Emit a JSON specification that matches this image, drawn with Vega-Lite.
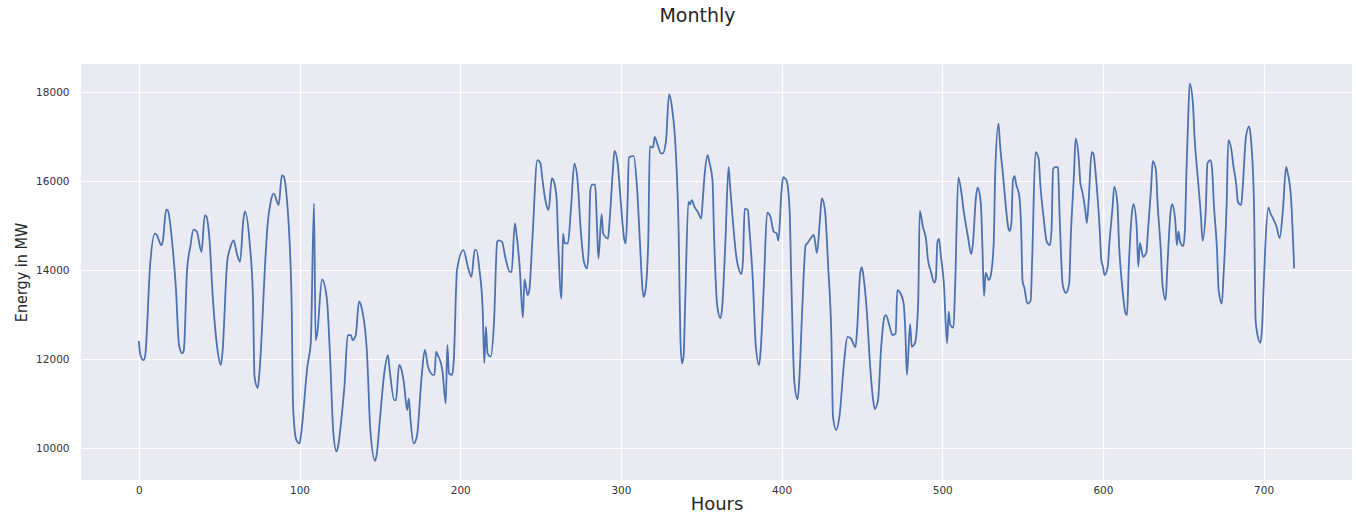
{
  "$schema": "https://vega.github.io/schema/vega-lite/v6.json",
  "width": 1271,
  "height": 416,
  "autosize": {"type": "none"},
  "padding": {"left": 81, "top": 64, "right": 4, "bottom": 34},
  "background": "white",
  "title": {
    "text": "Monthly",
    "font": "DejaVu Sans",
    "fontSize": 19,
    "fontWeight": "normal",
    "color": "#262626",
    "anchor": "middle",
    "frame": "group",
    "dx": -19,
    "offset": 38
  },
  "config": {
    "view": {"fill": "#EAEAF2", "stroke": null},
    "axis": {
      "domain": false,
      "ticks": false,
      "gridColor": "white",
      "gridWidth": 1.2,
      "labelFont": "DejaVu Sans",
      "labelFontSize": 10.5,
      "labelColor": "#333333",
      "titleColor": "#262626",
      "titleFontWeight": "normal"
    }
  },
  "data": {"values": [
    {"h":0,"mw":12410},{"h":1,"mw":12090},{"h":3,"mw":11980},{"h":4,"mw":12090},{"h":7,"mw":14110},
    {"h":10,"mw":14820},{"h":11,"mw":14800},{"h":14,"mw":14560},{"h":15,"mw":14670},{"h":17,"mw":15360},
    {"h":18,"mw":15340},{"h":21,"mw":14520},{"h":23,"mw":13630},{"h":25,"mw":12320},{"h":27,"mw":12130},
    {"h":28,"mw":12200},{"h":30,"mw":14000},{"h":32,"mw":14520},{"h":34,"mw":14910},{"h":36,"mw":14870},
    {"h":39,"mw":14410},{"h":41,"mw":15230},{"h":42,"mw":15210},{"h":44,"mw":14670},{"h":46,"mw":13400},
    {"h":49,"mw":12200},{"h":51,"mw":11870},{"h":52,"mw":12130},{"h":55,"mw":14190},{"h":57,"mw":14520},
    {"h":59,"mw":14670},{"h":61,"mw":14370},{"h":63,"mw":14190},{"h":65,"mw":15120},{"h":66,"mw":15320},
    {"h":69,"mw":14600},{"h":71,"mw":13400},{"h":72,"mw":11610},{"h":74,"mw":11350},{"h":75,"mw":11680},
    {"h":79,"mw":14410},{"h":80,"mw":14970},{"h":82,"mw":15530},{"h":84,"mw":15720},{"h":87,"mw":15460},
    {"h":89,"mw":16130},{"h":90,"mw":16110},{"h":92,"mw":15650},{"h":95,"mw":13400},{"h":96,"mw":10930},
    {"h":98,"mw":10190},{"h":100,"mw":10110},{"h":101,"mw":10330},{"h":105,"mw":11870},{"h":107,"mw":12360},
    {"h":109,"mw":15500},{"h":110,"mw":12430},{"h":111,"mw":12580},{"h":114,"mw":13790},{"h":117,"mw":13360},
    {"h":119,"mw":12060},{"h":121,"mw":10370},{"h":123,"mw":9930},{"h":124,"mw":10040},{"h":126,"mw":10640},
    {"h":128,"mw":11420},{"h":130,"mw":12540},{"h":132,"mw":12540},{"h":133,"mw":12430},{"h":135,"mw":12540},
    {"h":137,"mw":13290},{"h":139,"mw":13100},{"h":142,"mw":12130},{"h":144,"mw":10450},{"h":147,"mw":9720},
    {"h":148,"mw":9850},{"h":150,"mw":10640},{"h":153,"mw":11760},{"h":155,"mw":12090},{"h":156,"mw":11790},
    {"h":159,"mw":11080},{"h":160,"mw":11080},{"h":162,"mw":11870},{"h":163,"mw":11820},{"h":165,"mw":11460},
    {"h":167,"mw":10860},{"h":168,"mw":11120},{"h":169,"mw":10670},{"h":171,"mw":10110},{"h":173,"mw":10260},
    {"h":176,"mw":11610},{"h":178,"mw":12210},{"h":180,"mw":11830},{"h":183,"mw":11650},{"h":184,"mw":11650},
    {"h":185,"mw":12170},{"h":186,"mw":12090},{"h":188,"mw":11910},{"h":189,"mw":11720},{"h":191,"mw":11010},
    {"h":192,"mw":12320},{"h":193,"mw":11680},{"h":195,"mw":11650},{"h":196,"mw":11980},{"h":198,"mw":14000},
    {"h":202,"mw":14450},{"h":205,"mw":14040},{"h":207,"mw":13850},{"h":209,"mw":14450},{"h":210,"mw":14450},
    {"h":212,"mw":14000},{"h":214,"mw":13100},{"h":215,"mw":11910},{"h":216,"mw":12730},{"h":217,"mw":12130},
    {"h":219,"mw":12060},{"h":221,"mw":12800},{"h":223,"mw":14640},{"h":224,"mw":14670},{"h":226,"mw":14640},
    {"h":228,"mw":14300},{"h":231,"mw":13960},{"h":232,"mw":13960},{"h":234,"mw":15050},{"h":235,"mw":14820},
    {"h":237,"mw":14080},{"h":239,"mw":12940},{"h":240,"mw":13790},{"h":242,"mw":13440},{"h":243,"mw":13550},
    {"h":245,"mw":14750},{"h":248,"mw":16470},{"h":250,"mw":16390},{"h":251,"mw":16090},{"h":253,"mw":15570},
    {"h":255,"mw":15350},{"h":257,"mw":16060},{"h":258,"mw":16020},{"h":260,"mw":15610},{"h":261,"mw":14600},
    {"h":263,"mw":13360},{"h":264,"mw":14820},{"h":265,"mw":14600},{"h":267,"mw":14600},{"h":269,"mw":15420},
    {"h":271,"mw":16390},{"h":273,"mw":16020},{"h":275,"mw":14900},{"h":277,"mw":14190},{"h":279,"mw":14040},
    {"h":280,"mw":14520},{"h":281,"mw":15790},{"h":282,"mw":15920},{"h":284,"mw":15920},{"h":285,"mw":15120},
    {"h":286,"mw":14260},{"h":288,"mw":15260},{"h":289,"mw":14820},{"h":292,"mw":14710},{"h":293,"mw":15120},
    {"h":295,"mw":16240},{"h":296,"mw":16680},{"h":298,"mw":16390},{"h":300,"mw":15500},{"h":302,"mw":14710},
    {"h":303,"mw":14600},{"h":304,"mw":15350},{"h":305,"mw":16530},{"h":307,"mw":16560},{"h":308,"mw":16560},
    {"h":310,"mw":15870},{"h":312,"mw":14520},{"h":313,"mw":13810},{"h":314,"mw":13400},{"h":315,"mw":13480},
    {"h":317,"mw":14600},{"h":318,"mw":16780},{"h":320,"mw":16750},{"h":321,"mw":16990},{"h":323,"mw":16800},
    {"h":325,"mw":16620},{"h":326,"mw":16620},{"h":328,"mw":16880},{"h":330,"mw":17950},{"h":332,"mw":17590},
    {"h":334,"mw":16770},{"h":336,"mw":14750},{"h":337,"mw":12500},{"h":338,"mw":11910},{"h":339,"mw":12060},
    {"h":340,"mw":13250},{"h":342,"mw":15530},{"h":343,"mw":15480},{"h":344,"mw":15570},{"h":346,"mw":15410},
    {"h":348,"mw":15300},{"h":350,"mw":15160},{"h":351,"mw":15600},{"h":352,"mw":16100},{"h":354,"mw":16580},
    {"h":355,"mw":16430},{"h":357,"mw":16020},{"h":358,"mw":14750},{"h":360,"mw":13180},{"h":362,"mw":12920},
    {"h":363,"mw":13150},{"h":365,"mw":14600},{"h":367,"mw":16320},{"h":368,"mw":15870},{"h":370,"mw":14970},
    {"h":372,"mw":14260},{"h":373,"mw":14080},{"h":375,"mw":13910},{"h":376,"mw":14230},{"h":377,"mw":15380},
    {"h":379,"mw":15350},{"h":380,"mw":14900},{"h":382,"mw":13850},{"h":384,"mw":12280},{"h":386,"mw":11870},
    {"h":387,"mw":12210},{"h":389,"mw":13700},{"h":391,"mw":15290},{"h":393,"mw":15210},{"h":395,"mw":14870},
    {"h":397,"mw":14820},{"h":398,"mw":14660},{"h":400,"mw":15790},{"h":401,"mw":16090},{"h":403,"mw":16020},
    {"h":405,"mw":15350},{"h":406,"mw":13850},{"h":408,"mw":11460},{"h":410,"mw":11100},{"h":411,"mw":11530},
    {"h":413,"mw":13250},{"h":415,"mw":14560},{"h":416,"mw":14600},{"h":418,"mw":14710},{"h":420,"mw":14790},
    {"h":421,"mw":14600},{"h":422,"mw":14390},{"h":424,"mw":15200},{"h":425,"mw":15610},{"h":427,"mw":15350},
    {"h":429,"mw":14080},{"h":431,"mw":12500},{"h":432,"mw":10710},{"h":434,"mw":10410},{"h":436,"mw":10710},
    {"h":439,"mw":11980},{"h":441,"mw":12500},{"h":443,"mw":12470},{"h":446,"mw":12270},{"h":447,"mw":12660},
    {"h":449,"mw":13960},{"h":450,"mw":14060},{"h":451,"mw":13850},{"h":453,"mw":13100},{"h":455,"mw":11910},
    {"h":457,"mw":11080},{"h":458,"mw":10880},{"h":460,"mw":11080},{"h":462,"mw":12280},{"h":464,"mw":12950},
    {"h":465,"mw":12990},{"h":467,"mw":12770},{"h":469,"mw":12540},{"h":471,"mw":12580},{"h":472,"mw":13550},
    {"h":474,"mw":13480},{"h":476,"mw":13250},{"h":477,"mw":12650},{"h":478,"mw":11650},{"h":480,"mw":12790},
    {"h":481,"mw":12280},{"h":483,"mw":12360},{"h":485,"mw":13250},{"h":486,"mw":15330},{"h":488,"mw":14970},
    {"h":490,"mw":14670},{"h":491,"mw":14260},{"h":493,"mw":13960},{"h":495,"mw":13720},{"h":496,"mw":13800},
    {"h":497,"mw":14640},{"h":498,"mw":14700},{"h":499,"mw":14370},{"h":501,"mw":13700},{"h":503,"mw":12360},
    {"h":504,"mw":13070},{"h":505,"mw":12770},{"h":507,"mw":12710},{"h":508,"mw":13630},{"h":510,"mw":16080},
    {"h":512,"mw":15720},{"h":513,"mw":15420},{"h":516,"mw":14750},{"h":518,"mw":14360},{"h":519,"mw":14560},
    {"h":521,"mw":15650},{"h":522,"mw":15850},{"h":524,"mw":15500},{"h":525,"mw":14520},{"h":526,"mw":13420},
    {"h":527,"mw":13940},{"h":529,"mw":13780},{"h":530,"mw":13850},{"h":532,"mw":14600},{"h":533,"mw":16240},
    {"h":535,"mw":17290},{"h":536,"mw":16800},{"h":538,"mw":16060},{"h":540,"mw":15270},{"h":541,"mw":14970},
    {"h":542,"mw":14880},{"h":543,"mw":15050},{"h":544,"mw":16020},{"h":545,"mw":16110},{"h":546,"mw":15930},
    {"h":548,"mw":15650},{"h":549,"mw":15050},{"h":550,"mw":13740},{"h":551,"mw":13620},{"h":553,"mw":13250},
    {"h":555,"mw":13310},{"h":556,"mw":14300},{"h":558,"mw":16650},{"h":560,"mw":16500},{"h":561,"mw":15940},
    {"h":563,"mw":15200},{"h":565,"mw":14640},{"h":567,"mw":14560},{"h":568,"mw":14900},{"h":569,"mw":16280},
    {"h":571,"mw":16320},{"h":572,"mw":16300},{"h":573,"mw":15270},{"h":575,"mw":13660},{"h":577,"mw":13490},
    {"h":579,"mw":13700},{"h":580,"mw":14750},{"h":582,"mw":16170},{"h":583,"mw":16950},{"h":585,"mw":16480},
    {"h":586,"mw":15940},{"h":587,"mw":15790},{"h":589,"mw":15350},{"h":590,"mw":15060},{"h":591,"mw":15490},
    {"h":593,"mw":16650},{"h":594,"mw":16620},{"h":596,"mw":15940},{"h":598,"mw":14900},{"h":599,"mw":14220},
    {"h":600,"mw":14080},{"h":601,"mw":13890},{"h":603,"mw":14080},{"h":604,"mw":14600},{"h":606,"mw":15420},
    {"h":607,"mw":15870},{"h":609,"mw":15500},{"h":610,"mw":14600},{"h":612,"mw":13630},{"h":614,"mw":13040},
    {"h":615,"mw":12990},{"h":616,"mw":14000},{"h":618,"mw":15270},{"h":619,"mw":15480},{"h":621,"mw":14970},
    {"h":622,"mw":14080},{"h":623,"mw":14610},{"h":625,"mw":14300},{"h":627,"mw":14390},{"h":628,"mw":14860},
    {"h":630,"mw":15870},{"h":631,"mw":16450},{"h":633,"mw":16240},{"h":634,"mw":15500},{"h":636,"mw":14450},
    {"h":637,"mw":13700},{"h":639,"mw":13330},{"h":640,"mw":14000},{"h":642,"mw":15270},{"h":643,"mw":15480},
    {"h":645,"mw":15120},{"h":646,"mw":14560},{"h":647,"mw":14870},{"h":648,"mw":14640},{"h":650,"mw":14540},
    {"h":651,"mw":14900},{"h":652,"mw":16240},{"h":653,"mw":17370},{"h":654,"mw":18190},{"h":656,"mw":17740},
    {"h":657,"mw":16990},{"h":659,"mw":16090},{"h":661,"mw":15200},{"h":662,"mw":14660},{"h":664,"mw":15350},
    {"h":665,"mw":16390},{"h":667,"mw":16470},{"h":668,"mw":16240},{"h":669,"mw":15500},{"h":671,"mw":14450},
    {"h":672,"mw":13550},{"h":674,"mw":13250},{"h":675,"mw":13850},{"h":677,"mw":15500},{"h":678,"mw":16920},
    {"h":680,"mw":16690},{"h":681,"mw":16390},{"h":683,"mw":15910},{"h":684,"mw":15530},{"h":686,"mw":15460},
    {"h":687,"mw":15870},{"h":689,"mw":16990},{"h":691,"mw":17230},{"h":692,"mw":16990},{"h":694,"mw":15500},
    {"h":695,"mw":12880},{"h":696,"mw":12580},{"h":698,"mw":12370},{"h":699,"mw":12700},{"h":700,"mw":13600},
    {"h":701,"mw":14500},{"h":703,"mw":15410},{"h":704,"mw":15300},{"h":706,"mw":15150},{"h":708,"mw":14980},
    {"h":710,"mw":14720},{"h":712,"mw":15350},{"h":714,"mw":16320},{"h":715,"mw":16180},{"h":717,"mw":15650},
    {"h":719,"mw":14040}
  ]},
  "mark": {"type": "line", "color": "#4C72B0", "strokeWidth": 1.8, "interpolate": "monotone"},
  "encoding": {
    "x": {
      "field": "h",
      "type": "quantitative",
      "scale": {"domain": [-36, 755], "nice": false, "zero": false},
      "axis": {
        "values": [0, 100, 200, 300, 400, 500, 600, 700],
        "format": "d",
        "labelAngle": 0,
        "labelPadding": 5,
        "title": "Hours",
        "titleFont": "DejaVu Sans",
        "titleFontSize": 18,
        "titlePadding": 0
      }
    },
    "y": {
      "field": "mw",
      "type": "quantitative",
      "scale": {"domain": [9288, 18629], "nice": false, "zero": false},
      "axis": {
        "values": [10000, 12000, 14000, 16000, 18000],
        "format": "d",
        "labelPadding": 12,
        "title": "Energy in MW",
        "titleFont": "DejaVu Sans Condensed, Liberation Sans, sans-serif",
        "titleFontSize": 16,
        "titlePadding": 6
      }
    }
  }
}
